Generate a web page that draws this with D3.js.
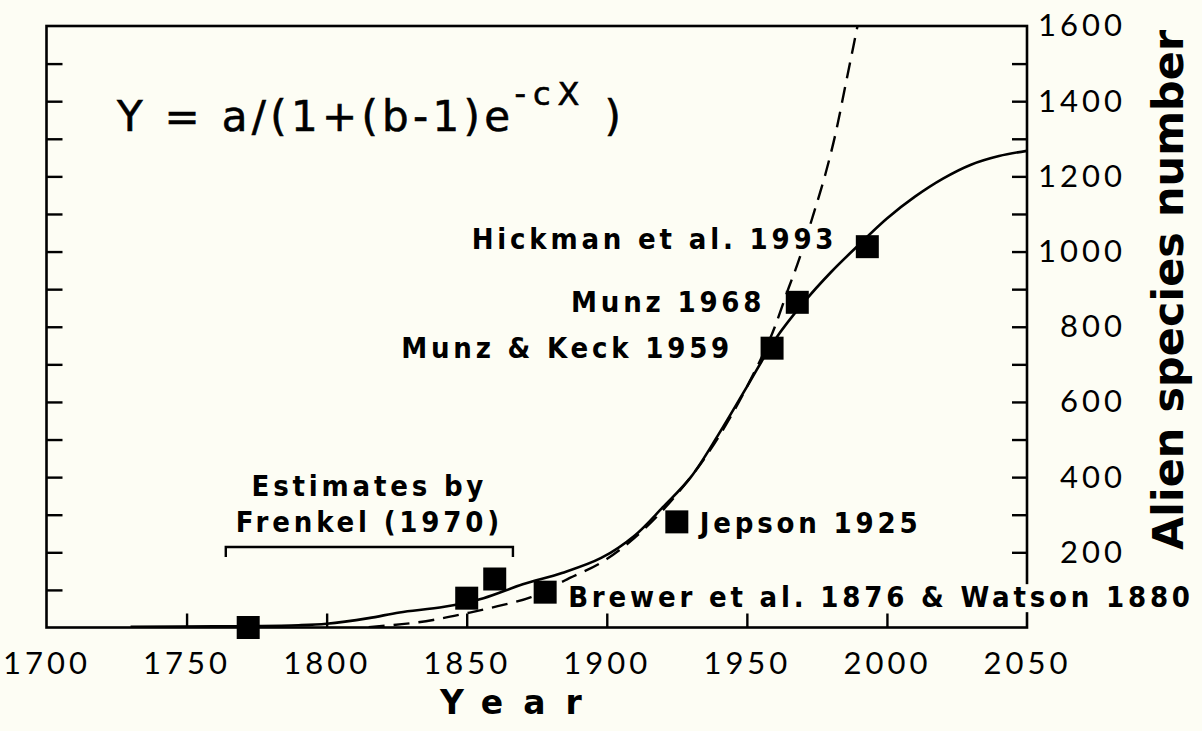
<!DOCTYPE html>
<html>
<head>
<meta charset="utf-8">
<script src="https://cdn.jsdelivr.net/npm/d3@7"></script>
<style>
  html, body { margin: 0; padding: 0; background: #fdfdf4; }
  svg { display: block; }
  .tick-label { font-family: "Lato", "Noto Sans", sans-serif; font-weight: 400; }
  .note { font-family: "DejaVu Sans Condensed", "DejaVu Sans", sans-serif; font-weight: bold; }
</style>
</head>
<body>
<svg id="chart" width="1202" height="731"></svg>
<script>
// Axis ticks
const xTickYears = [1700, 1750, 1800, 1850, 1900, 1950, 2000, 2050];
const yLabelValues = [200, 400, 600, 800, 1000, 1200, 1400, 1600];
const yMinorValues = [100, 200, 300, 400, 500, 600, 700, 800, 900, 1000, 1100, 1200, 1300, 1400, 1500];

// Fitted logistic curve (solid)
const fitYears  = [1730, 1760, 1790, 1800, 1815, 1826, 1842, 1856, 1870, 1884, 1898, 1910, 1920, 1930, 1940, 1950, 1960, 1970, 1980, 1990, 2000, 2010, 2020, 2030, 2040, 2050];
const fitValues = [2, 3, 6, 10, 25, 40, 55, 78, 115, 145, 185, 245, 320, 400, 515, 640, 765, 862, 945, 1018, 1088, 1146, 1194, 1231, 1254, 1268];

// Exponential curve (dashed)
const expYears  = [1815, 1838, 1850, 1863, 1873, 1885, 1900, 1920, 1940, 1950, 1960, 1965, 1968, 1974, 1978, 1982, 1985, 1988, 1989.5];
const expValues = [1, 20, 38, 60, 81, 125, 182, 312, 508, 640, 800, 905, 965, 1105, 1205, 1325, 1435, 1545, 1600];

// Floras
const floraNames  = ["Hickman et al. 1993", "Munz 1968", "Munz & Keck 1959", "Jepson 1925", "Brewer et al. 1876 & Watson 1880"];
const floraYears  = [1993, 1968, 1959, 1925, 1878];
const floraCounts = [1013, 865, 743, 281, 94];

// Frenkel (1970) estimates
const frenkelYears  = [1772, 1850, 1860];
const frenkelCounts = [0, 78, 129];

const bg = "#fdfdf4";
const ink = "#000";
const svg = d3.select("#chart");
const plot = { left: 46.5, right: 1027, top: 26, bottom: 627.5 };

const x = d3.scaleLinear().domain([1700, 2050]).range([plot.left, plot.right]);
const y = d3.scaleLinear().domain([0, 1600]).range([plot.bottom, plot.top]);

svg.append("rect").attr("width", 1202).attr("height", 731).attr("fill", bg);

svg.append("defs").append("clipPath").attr("id", "plot-clip")
  .append("rect")
  .attr("x", plot.left).attr("y", plot.top)
  .attr("width", plot.right - plot.left).attr("height", plot.bottom - plot.top);

// Frame
svg.append("rect")
  .attr("x", plot.left).attr("y", plot.top)
  .attr("width", plot.right - plot.left).attr("height", plot.bottom - plot.top)
  .attr("fill", "none").attr("stroke", ink).attr("stroke-width", 2.6);

// Bottom axis: inward ticks, year labels
const xAxis = svg.append("g")
  .attr("transform", `translate(0,${plot.bottom})`)
  .call(d3.axisBottom(x).tickValues(xTickYears).tickSize(-14).tickPadding(24).tickFormat(d3.format("d")));
xAxis.select(".domain").remove();
xAxis.selectAll(".tick line").attr("stroke", ink).attr("stroke-width", 2.4)
  .filter(d => d === 1700 || d === 2050).remove();
xAxis.selectAll(".tick text").attr("class", "tick-label")
  .attr("font-size", 31).attr("letter-spacing", 4).attr("fill", ink);

// Left axis: inward ticks only
const yLeft = svg.append("g")
  .attr("transform", `translate(${plot.left},0)`)
  .call(d3.axisLeft(y).tickValues(yMinorValues).tickSize(-16).tickFormat(""));
yLeft.select(".domain").remove();
yLeft.selectAll(".tick line").attr("stroke", ink).attr("stroke-width", 2.4);

// Right axis: inward ticks
const yRight = svg.append("g")
  .attr("transform", `translate(${plot.right},0)`)
  .call(d3.axisRight(y).tickValues(yMinorValues).tickSize(-15).tickFormat(""));
yRight.select(".domain").remove();
yRight.selectAll(".tick line").attr("stroke", ink).attr("stroke-width", 2.4);

// Right axis labels
const yRightLabels = svg.append("g")
  .attr("transform", `translate(${plot.right},0)`)
  .call(d3.axisRight(y).tickValues(yLabelValues).tickSize(0).tickPadding(0).tickFormat(d3.format("d")));
yRightLabels.select(".domain").remove();
yRightLabels.selectAll(".tick text").attr("class", "tick-label")
  .attr("font-size", 31).attr("letter-spacing", 4).attr("fill", ink)
  .attr("text-anchor", "end").attr("x", 99);

// Curves
const plotArea = svg.append("g").attr("clip-path", "url(#plot-clip)");
const smoothLine = d3.line().x(d => x(d[0])).y(d => y(d[1])).curve(d3.curveCatmullRom.alpha(0.5));
const steepLine = d3.line().x(d => x(d[0])).y(d => y(d[1])).curve(d3.curveMonotoneX);

plotArea.append("path")
  .datum(d3.zip(fitYears, fitValues))
  .attr("d", smoothLine).attr("fill", "none").attr("stroke", ink).attr("stroke-width", 2.6);

plotArea.append("path")
  .datum(d3.zip(expYears, expValues))
  .attr("d", steepLine).attr("fill", "none").attr("stroke", ink).attr("stroke-width", 2.4)
  .attr("stroke-dasharray", "16,9");

// Square markers
const square = d3.symbol().type(d3.symbolSquare).size(23 * 23);
svg.append("g").selectAll("path")
  .data(d3.zip(frenkelYears.concat(floraYears), frenkelCounts.concat(floraCounts)))
  .join("path")
  .attr("transform", d => `translate(${x(d[0])},${y(d[1])})`)
  .attr("d", square).attr("fill", ink);

// Flora labels (opaque background so lines pass behind)
const labelOffsets = [
  { dx: -30, dy: 2, anchor: "end" },
  { dx: -32, dy: 10, anchor: "end" },
  { dx: -39, dy: 10, anchor: "end" },
  { dx: 23, dy: 11, anchor: "start" },
  { dx: 23, dy: 15, anchor: "start" }
];
const notes = svg.append("g");
floraNames.forEach((name, i) => {
  const o = labelOffsets[i];
  const g = notes.append("g");
  const t = g.append("text").attr("class", "note")
    .attr("x", x(floraYears[i]) + o.dx).attr("y", y(floraCounts[i]) + o.dy)
    .attr("text-anchor", o.anchor)
    .attr("font-size", 29).attr("letter-spacing", 3.8).attr("fill", ink)
    .text(name);
  const b = t.node().getBBox();
  g.insert("rect", "text")
    .attr("x", b.x - 2).attr("y", b.y + 4).attr("width", b.width + 4).attr("height", b.height - 6)
    .attr("fill", bg);
});

// Frenkel bracket and caption
const bracketY = 547;
svg.append("path")
  .attr("d", `M${x(1764)},${bracketY + 10}V${bracketY}H${x(1866.5)}V${bracketY + 10}`)
  .attr("fill", "none").attr("stroke", ink).attr("stroke-width", 2.4);
const capX = (x(1764) + x(1866.5)) / 2;
svg.append("text").attr("class", "note").attr("x", capX).attr("y", 496)
  .attr("text-anchor", "middle").attr("font-size", 29).attr("letter-spacing", 3.8)
  .text("Estimates by");
svg.append("text").attr("class", "note").attr("x", capX).attr("y", 532)
  .attr("text-anchor", "middle").attr("font-size", 29).attr("letter-spacing", 3.8)
  .text("Frenkel (1970)");

// Model equation
const eq = svg.append("text")
  .attr("x", 117).attr("y", 131)
  .attr("font-family", "DejaVu Sans, sans-serif")
  .attr("font-size", 42).attr("letter-spacing", 4.3).attr("fill", ink)
  .attr("stroke", ink).attr("stroke-width", 0.6);
eq.append("tspan").text("Y = a/(1+(b-1)e");
eq.append("tspan").attr("dy", -26).attr("font-size", 32).attr("letter-spacing", 7).text("-cX");
eq.append("tspan").attr("dy", 26).attr("dx", 18).text(")");

// Axis titles
svg.append("text")
  .attr("x", 440).attr("y", 714)
  .attr("font-family", "DejaVu Sans, sans-serif").attr("font-weight", "bold")
  .attr("font-size", 33).attr("letter-spacing", 20).attr("fill", ink)
  .text("Year");

svg.append("text")
  .attr("transform", "translate(1183,290) rotate(-90)")
  .attr("text-anchor", "middle")
  .attr("font-family", "DejaVu Sans, sans-serif").attr("font-weight", "bold")
  .attr("font-size", 43).attr("fill", ink)
  .text("Alien species number");
</script>
</body>
</html>
